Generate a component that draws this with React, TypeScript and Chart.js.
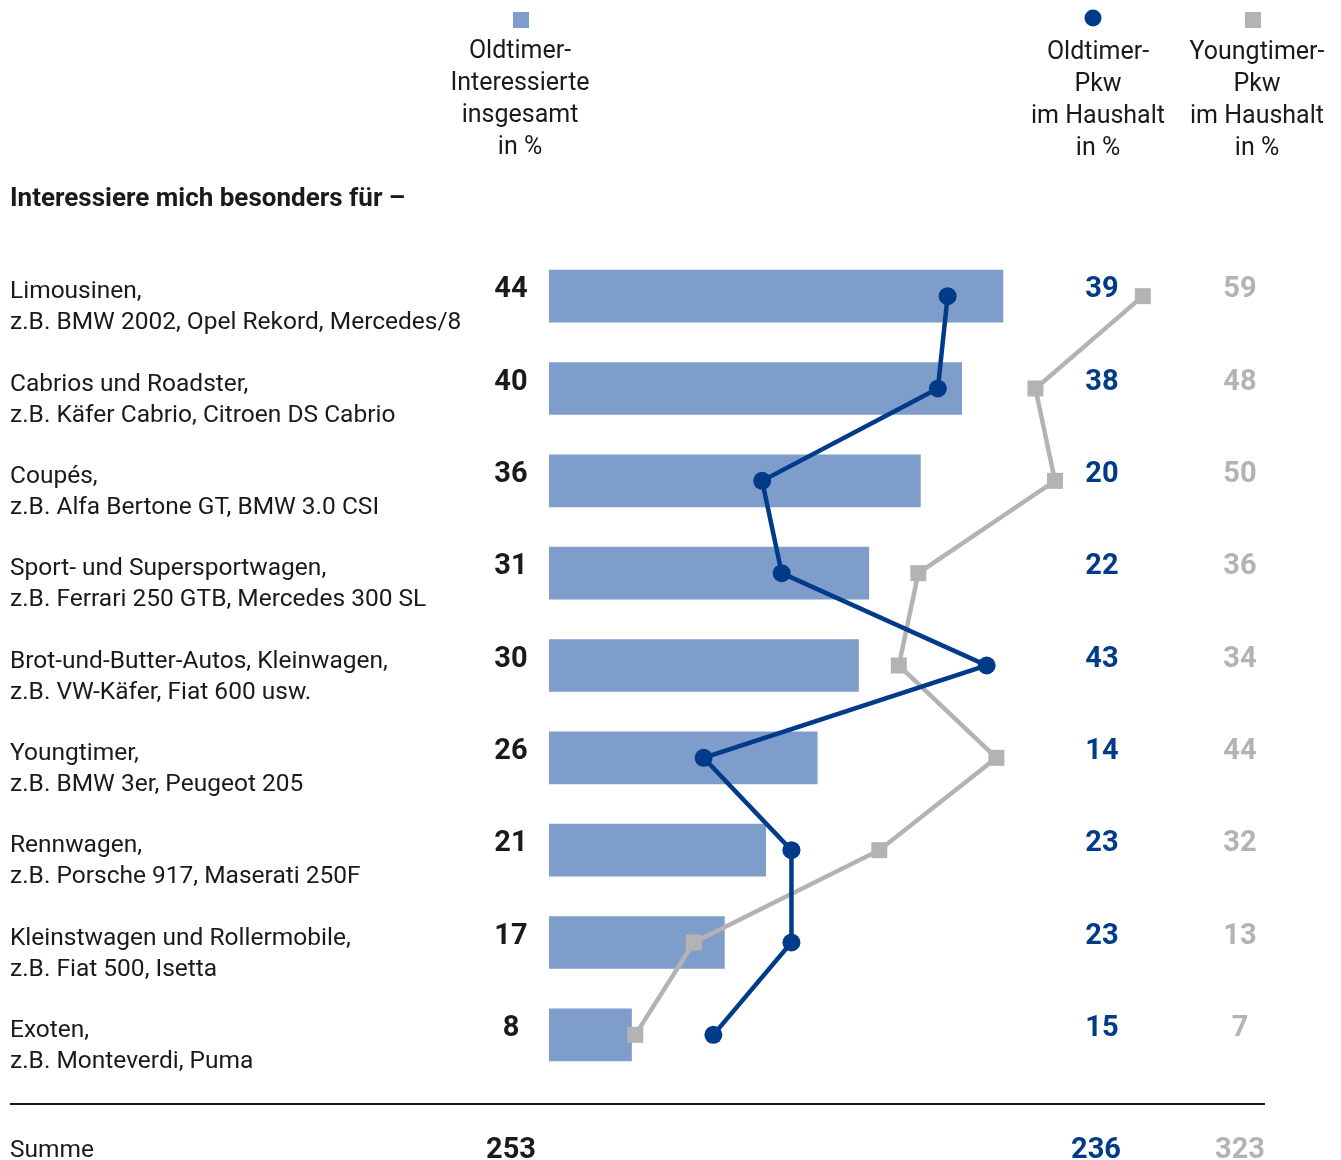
import React, { useEffect, useRef } from "react";
import { Chart, registerables } from "chart.js";

Chart.register(...registerables);

const categoryTitles = [
  "Limousinen,",
  "Cabrios und Roadster,",
  "Coupés,",
  "Sport- und Supersportwagen,",
  "Brot-und-Butter-Autos, Kleinwagen,",
  "Youngtimer,",
  "Rennwagen,",
  "Kleinstwagen und Rollermobile,",
  "Exoten,",
];
const categoryExamples = [
  "z.B. BMW 2002, Opel Rekord, Mercedes/8",
  "z.B. Käfer Cabrio, Citroen DS Cabrio",
  "z.B. Alfa Bertone GT, BMW 3.0 CSI",
  "z.B. Ferrari 250 GTB, Mercedes 300 SL",
  "z.B. VW-Käfer, Fiat 600 usw.",
  "z.B. BMW 3er, Peugeot 205",
  "z.B. Porsche 917, Maserati 250F",
  "z.B. Fiat 500, Isetta",
  "z.B. Monteverdi, Puma",
];
const interessierteInsgesamt = [44, 40, 36, 31, 30, 26, 21, 17, 8];
const oldtimerPkw = [39, 38, 20, 22, 43, 14, 23, 23, 15];
const youngtimerPkw = [59, 48, 50, 36, 34, 44, 32, 13, 7];
const summen = [253, 236, 323];
const sectionTitle = "Interessiere mich besonders für –";
const sumLabel = "Summe";
const headerInteressierte = ["Oldtimer-", "Interessierte", "insgesamt", "in %"];
const headerOldtimer = ["Oldtimer-", "Pkw", "im Haushalt", "in %"];
const headerYoungtimer = ["Youngtimer-", "Pkw", "im Haushalt", "in %"];

const BAR_COLOR = "#7f9dca";
const BLUE = "#003b8a";
const GRAY = "#b3b3b3";
const TEXT = "#1a1a1a";
const FAMILY = "Roboto, 'Noto Sans', sans-serif";

const textPlugin = {
  id: "textPlugin",
  afterDraw(chart: any) {
    const ctx = chart.ctx as CanvasRenderingContext2D;
    const y = chart.scales.y;
    ctx.save();
    ctx.textBaseline = "alphabetic";

    // legend markers
    ctx.fillStyle = BAR_COLOR;
    ctx.fillRect(513, 12, 16, 16);
    ctx.fillStyle = BLUE;
    ctx.beginPath();
    ctx.arc(1093, 18, 8.5, 0, Math.PI * 2);
    ctx.fill();
    ctx.fillStyle = GRAY;
    ctx.fillRect(1245, 12, 16, 16);

    // headers
    ctx.font = `25px ${FAMILY}`;
    ctx.fillStyle = TEXT;
    ctx.textAlign = "center";
    headerInteressierte.forEach((t, i) => ctx.fillText(t, 520, 58 + i * 32));
    headerOldtimer.forEach((t, i) => ctx.fillText(t, 1098, 59 + i * 32));
    headerYoungtimer.forEach((t, i) => ctx.fillText(t, 1257, 59 + i * 32));

    // section title
    ctx.textAlign = "left";
    ctx.font = `bold 26px ${FAMILY}`;
    ctx.fillText(sectionTitle, 10, 206);

    // category labels and values
    categoryTitles.forEach((t, i) => {
      const cy = y.getPixelForValue(i);
      ctx.textAlign = "left";
      ctx.font = `24.5px ${FAMILY}`;
      ctx.fillStyle = TEXT;
      ctx.fillText(t, 10, cy + 2);
      ctx.fillText(categoryExamples[i], 10, cy + 33);
      ctx.textAlign = "center";
      ctx.font = `bold 29px ${FAMILY}`;
      ctx.fillStyle = TEXT;
      ctx.fillText(String(interessierteInsgesamt[i]), 511, cy + 1);
      ctx.fillStyle = BLUE;
      ctx.fillText(String(oldtimerPkw[i]), 1102, cy + 1);
      ctx.fillStyle = GRAY;
      ctx.fillText(String(youngtimerPkw[i]), 1240, cy + 1);
    });

    // separator
    ctx.strokeStyle = TEXT;
    ctx.lineWidth = 2;
    ctx.beginPath();
    ctx.moveTo(10, 1104);
    ctx.lineTo(1265, 1104);
    ctx.stroke();

    // sum row
    ctx.textAlign = "left";
    ctx.font = `24.5px ${FAMILY}`;
    ctx.fillStyle = TEXT;
    ctx.fillText(sumLabel, 10, 1157);
    ctx.textAlign = "center";
    ctx.font = `bold 29px ${FAMILY}`;
    ctx.fillText(String(summen[0]), 511, 1158);
    ctx.fillStyle = BLUE;
    ctx.fillText(String(summen[1]), 1096, 1158);
    ctx.fillStyle = GRAY;
    ctx.fillText(String(summen[2]), 1240, 1158);
    ctx.restore();
  },
};

export default function App() {
  const ref = useRef<HTMLCanvasElement | null>(null);
  useEffect(() => {
    if (!ref.current) return;
    const chart = new Chart(ref.current, {
      type: "bar",
      data: {
        labels: categoryTitles,
        datasets: [
          {
            type: "bar",
            label: "Oldtimer-Interessierte insgesamt in %",
            data: interessierteInsgesamt,
            backgroundColor: BAR_COLOR,
            borderWidth: 0,
            barThickness: 52,
            xAxisID: "x",
            yAxisID: "y",
            indexAxis: "y",
            order: 3,
          } as any,
          {
            type: "line",
            label: "Youngtimer-Pkw im Haushalt in %",
            data: youngtimerPkw,
            borderColor: GRAY,
            backgroundColor: GRAY,
            borderWidth: 4.5,
            pointStyle: "rect",
            pointRadius: 11.3,
            pointBorderWidth: 0,
            pointBackgroundColor: GRAY,
            xAxisID: "x2",
            yAxisID: "y",
            indexAxis: "y",
            clip: false,
            order: 2,
          } as any,
          {
            type: "line",
            label: "Oldtimer-Pkw im Haushalt in %",
            data: oldtimerPkw,
            borderColor: BLUE,
            backgroundColor: BLUE,
            borderWidth: 4.5,
            pointStyle: "circle",
            pointRadius: 9,
            pointBorderWidth: 0,
            pointBackgroundColor: BLUE,
            xAxisID: "x2",
            yAxisID: "y",
            indexAxis: "y",
            clip: false,
            order: 1,
          } as any,
        ],
      },
      options: {
        indexAxis: "y",
        animation: false,
        responsive: false,
        devicePixelRatio: 1,
        layout: { padding: { left: 549, right: 173, top: 250, bottom: 79 } },
        plugins: { legend: { display: false }, tooltip: { enabled: false } },
        scales: {
          x: { type: "linear", min: 0, max: 60, display: false, position: "bottom" },
          x2: { type: "linear", axis: "x", min: -1.84, max: 61.58, display: false, position: "top" },
          y: { type: "category", display: false, offset: true, grid: { display: false } },
        },
      } as any,
      plugins: [textPlugin],
    });
    return () => chart.destroy();
  }, []);
  return (
    <div style={{ position: "absolute", left: 0, top: 0, width: 1341, height: 1160, background: "#fff" }}>
      <canvas ref={ref} width={1341} height={1160} style={{ display: "block", width: 1341, height: 1160 }} />
    </div>
  );
}
